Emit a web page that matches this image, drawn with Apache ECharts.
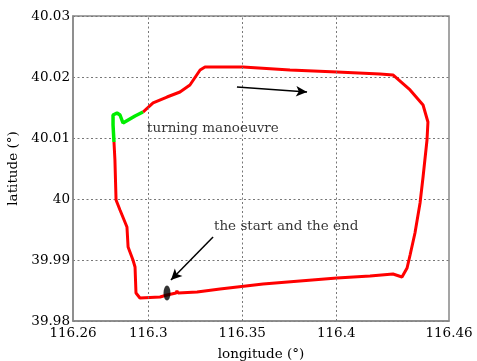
<!DOCTYPE html>
<html><head><meta charset="utf-8">
<script src="https://cdn.jsdelivr.net/npm/echarts@6/dist/echarts.min.js"></script>
<style>html,body{margin:0;padding:0;background:#fff}#c{width:477px;height:361px}</style>
</head><body><div id="c"></div>
<script>
// Trajectory (red), in order: left side down, bottom east, right side up, top west, diagonal to turn
const redLon = [116.2818,116.2823,116.2829,116.2850,116.2887,116.2893,116.2919,116.2930,116.2935,116.2956,116.3063,116.3100,116.3148,116.3153,116.3159,116.3260,116.3382,116.3611,116.3807,116.4004,116.4180,116.4302,116.4350,116.4377,116.4393,116.4419,116.4446,116.4462,116.4483,116.4488,116.4462,116.4393,116.4302,116.4233,116.4004,116.3754,116.3504,116.3302,116.3276,116.3222,116.3169,116.3100,116.3026,116.2972];
const redLat = [40.00934,40.00639,39.99984,39.99820,39.99541,39.99213,39.99000,39.98885,39.98459,39.98377,39.98393,39.98426,39.98459,39.98492,39.98459,39.98475,39.98525,39.98607,39.98656,39.98705,39.98738,39.98770,39.98721,39.98869,39.99082,39.99443,39.99934,40.00361,40.00967,40.01262,40.01541,40.01787,40.02033,40.02049,40.02082,40.02115,40.02164,40.02164,40.02115,40.01869,40.01754,40.01672,40.01574,40.01426];
// Turning manoeuvre (green)
const greenLon = [116.2972,116.2930,116.2866,116.2850,116.2834,116.2813,116.2813,116.2818];
const greenLat = [40.01426,40.01361,40.01246,40.01377,40.01410,40.01377,40.01213,40.00934];
// Start / end point
const startLon = [116.3100];
const startLat = [39.98459];
// Annotations
const noteText = ['turning manoeuvre','the start and the end'];
const noteLon = [116.2994,116.3350];
const noteLat = [40.01148,39.99541];
// Arrows
const arrowFromLon = [116.3472,116.3345];
const arrowFromLat = [40.01836,39.99377];
const arrowToLon = [116.3845,116.3121];
const arrowToLat = [40.01754,39.98672];
// Axis ticks
const xTickLabels = [116.26,116.3,116.35,116.4,116.46];
const xGridLines = [116.3,116.35,116.4];

const FONT = 'DejaVu Serif';
const zip = (a,b)=>a.map((v,i)=>[v,b[i]]);
const chart = echarts.init(document.getElementById('c'), null, {renderer:'canvas'});
chart.setOption({
  animation:false,
  backgroundColor:'#fff',
  grid:{left:73,right:28,top:16,bottom:40,containLabel:false,outerBoundsMode:'none',
    show:true,borderColor:'#888',borderWidth:1.5,backgroundColor:'transparent'},
  xAxis:{type:'value',min:116.26,max:116.46,interval:0.01,
    name:'longitude (°)',nameLocation:'middle',nameGap:26,
    nameTextStyle:{fontFamily:FONT,fontSize:13.5,color:'#000'},
    axisLine:{show:true,lineStyle:{color:'#888',width:1.5}},axisTick:{show:false},
    splitLine:{show:false},
    axisLabel:{fontFamily:FONT,fontSize:13.5,color:'#000',margin:5,showMinLabel:true,showMaxLabel:true,
      formatter:v=>{for(const t of xTickLabels){if(Math.abs(v-t)<1e-6)return String(t);}return '';}}},
  yAxis:{type:'value',min:39.98,max:40.03,interval:0.01,
    name:'latitude (°)',nameLocation:'middle',nameGap:39,
    nameTextStyle:{fontFamily:FONT,fontSize:13.5,color:'#000'},
    axisLine:{show:true,lineStyle:{color:'#888',width:1.5}},axisTick:{show:false},
    splitLine:{show:true,lineStyle:{color:'#777',type:[2,2.5],width:1}},
    axisLabel:{fontFamily:FONT,fontSize:13.5,color:'#000',margin:3}},
  series:[
    {type:'line',data:[],z:1,silent:true,
      markLine:{silent:true,symbol:['none','none'],label:{show:false},
        lineStyle:{color:'#777',type:[2,2.5],width:1},
        data:xGridLines.map(v=>({xAxis:v}))}},
    {type:'line',data:zip(redLon,redLat),showSymbol:false,symbol:'none',z:3,
      lineStyle:{color:'#ff0000',width:3},itemStyle:{color:'#ff0000'}},
    {type:'line',data:zip(greenLon,greenLat),showSymbol:false,symbol:'none',z:4,
      lineStyle:{color:'#00ee00',width:3.5},itemStyle:{color:'#00ee00'}},
    {type:'scatter',data:zip(startLon,startLat),symbol:'circle',symbolSize:[7,15],z:5,
      itemStyle:{color:'#000'}},
    {type:'scatter',z:6,symbolSize:0,
      data:noteText.map((t,i)=>({name:t,value:[noteLon[i],noteLat[i]]})),
      label:{show:true,position:'right',distance:0,formatter:p=>p.name,
        fontFamily:FONT,fontSize:13.5,color:'#000'}},
    {type:'line',data:[],z:6,
      markLine:{silent:true,symbol:['none','arrow'],symbolSize:[8,11],label:{show:false},
        lineStyle:{color:'#000',width:1.5,type:'solid'},
        data:arrowFromLon.map((v,i)=>[{coord:[v,arrowFromLat[i]]},{coord:[arrowToLon[i],arrowToLat[i]]}])}}
  ]
});
</script></body></html>
